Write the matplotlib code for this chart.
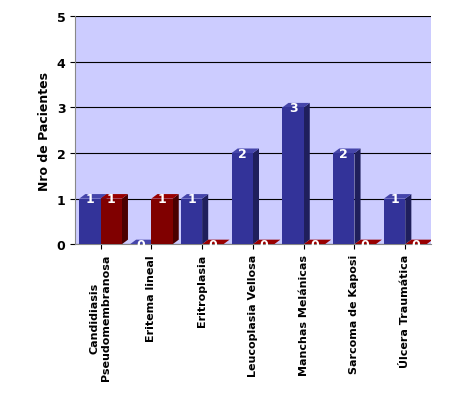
import matplotlib
matplotlib.use("Agg")
import matplotlib.pyplot as plt
from matplotlib.patches import Polygon
import numpy as np

categories = ["Candidiasis\nPseudomembranosa", "Eritema lineal", "Eritroplasia",
              "Leucoplasia Vellosa", "Manchas Melánicas", "Sarcoma de Kaposi", "Úlcera Traumática"]
blue_vals = [1, 0, 1, 2, 3, 2, 1]
red_vals = [1, 1, 0, 0, 0, 0, 0]

fig = plt.figure(figsize=(4.5, 4.02), dpi=100)
ax = fig.add_axes([0.167, 0.39, 0.79, 0.567])
ax.set_facecolor("#ccccff")
ax.set_xlim(-0.5, 6.5)
ax.set_ylim(0, 5)
ax.set_yticks(range(6))
ax.yaxis.grid(True, color="black", lw=0.8)
ax.set_axisbelow(True)
for s in ["top", "right"]:
    ax.spines[s].set_visible(False)
ax.spines["left"].set_color("#888888")
ax.spines["bottom"].set_color("#888888")

w = 0.42
dx, dy = 0.12, 0.1
x = np.arange(len(categories))
def bar3d(xs, vals, front, side, top):
    for xi, v in zip(xs, vals):
        l, r = xi - w / 2, xi + w / 2
        ax.add_patch(Polygon([[r, 0], [r + dx, dy], [r + dx, v + dy], [r, v]], closed=True, fc=side, ec="none", zorder=3))
        ax.add_patch(Polygon([[l, v], [l + dx, v + dy], [r + dx, v + dy], [r, v]], closed=True, fc=top, ec="none", zorder=3))
        ax.bar(xi, v, w, color=front, zorder=3)
        ax.text(xi, v, str(v), color="white", fontweight="bold", fontsize=9,
                ha="center", va="center", zorder=5)
bar3d(x - w / 2, blue_vals, "#333399", "#1f1f5c", "#4545aa")
bar3d(x + w / 2, red_vals, "#800000", "#4a0000", "#990000")

ax.set_xticks(x)
ax.set_xticklabels(categories, rotation=90, fontweight="bold", fontsize=8)
ax.tick_params(axis="y", labelsize=9)
for t in ax.get_yticklabels():
    t.set_fontweight("bold")
ax.set_ylabel("Nro de Pacientes", fontweight="bold", fontsize=9)
fig.savefig("out.png", dpi=100, facecolor="white")
